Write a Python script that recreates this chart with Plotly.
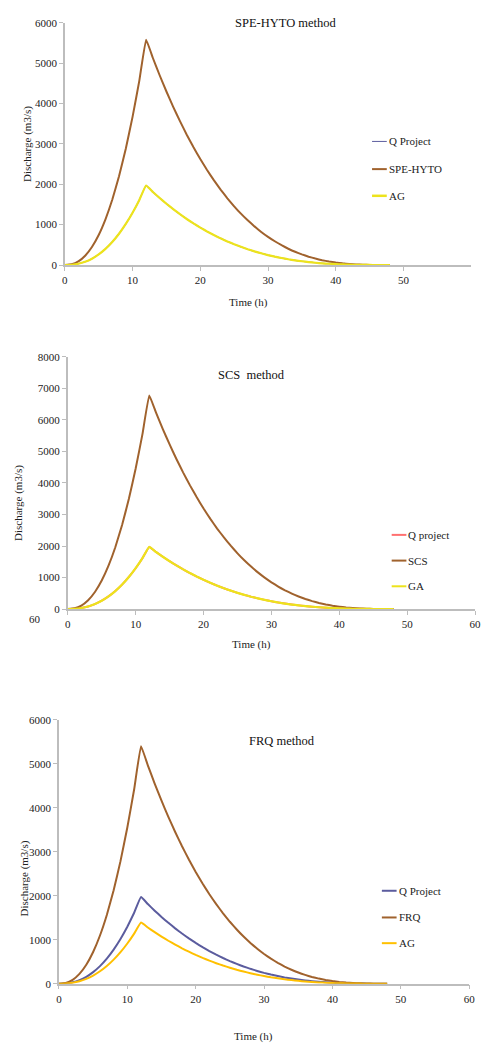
import plotly.graph_objects as go

W, H = 487, 1050

time_h = list(range(0, 49))

q_project = [0, 7, 32, 81, 157, 263, 400, 570, 775, 1017, 1295, 1613, 1970,
             1810, 1660, 1517, 1384, 1258, 1140, 1030, 927, 831, 742, 660, 584,
             514, 450, 391, 338, 290, 246, 207, 173, 142, 116, 93, 73, 56, 42,
             31, 22, 14, 9, 5, 3, 1, 0, 0, 0]

spe_hyto = [0, 18, 90, 230, 446, 745, 1133, 1615, 2196, 2879, 3669, 4568, 5580,
            5128, 4701, 4298, 3919, 3563, 3229, 2917, 2625, 2354, 2102, 1869, 1653,
            1455, 1273, 1108, 957, 820, 698, 588, 490, 403, 328, 263, 206, 159, 119,
            87, 61, 41, 26, 15, 8, 3, 1, 0, 0]

ag_spe = [0, 7, 32, 81, 157, 263, 400, 570, 775, 1017, 1295, 1613, 1970,
          1810, 1660, 1517, 1384, 1258, 1140, 1030, 927, 831, 742, 660, 584,
          514, 450, 391, 338, 290, 246, 207, 173, 142, 116, 93, 73, 56, 42,
          31, 22, 14, 9, 5, 3, 1, 0, 0, 0]

scs = [0, 22, 110, 280, 542, 905, 1376, 1962, 2668, 3498, 4458, 5550, 6780,
       6231, 5711, 5223, 4762, 4329, 3924, 3545, 3190, 2860, 2554, 2271, 2009,
       1768, 1547, 1346, 1163, 997, 848, 714, 595, 490, 399, 319, 251, 193, 145,
       106, 75, 49, 31, 18, 9, 4, 1, 0, 0]

ga_scs = [0, 7, 32, 81, 157, 263, 400, 570, 775, 1017, 1295, 1613, 1970,
          1810, 1660, 1517, 1384, 1258, 1140, 1030, 927, 831, 742, 660, 584,
          514, 450, 391, 338, 290, 246, 207, 173, 142, 116, 93, 73, 56, 42,
          31, 22, 14, 9, 5, 3, 1, 0, 0, 0]

frq = [0, 18, 87, 223, 431, 721, 1096, 1563, 2125, 2786, 3551, 4420, 5400,
       4963, 4549, 4160, 3792, 3448, 3125, 2823, 2541, 2278, 2034, 1808, 1600,
       1408, 1232, 1072, 926, 794, 675, 569, 474, 390, 318, 254, 200, 154, 116,
       84, 59, 39, 25, 15, 8, 3, 1, 0, 0]

ag_frq = [0, 5, 23, 57, 111, 186, 282, 402, 547, 717, 914, 1138, 1390,
          1277, 1171, 1071, 976, 888, 804, 727, 654, 586, 524, 466, 412,
          363, 317, 276, 238, 204, 174, 146, 122, 100, 82, 65, 51, 40, 30,
          22, 15, 10, 6, 4, 2, 1, 0, 0, 0]

BROWN = "#A0622D"
YELLOW = "#EDE31C"
ORANGE = "#FFC000"
BLUE = "#5B5C9E"
RED = "#FF7070"
AXIS = "#BDBDBD"
FONT = "Liberation Serif"
TXT = "#222222"


def px(x):
    return x / W


def py(y):
    return 1 - y / H


panels = [
    dict(title="SPE-HYTO method", tpos=(288, 17),
         xdom=(63, 477), ydom=(262, 17), ymax=6000, ydt=1000,
         xticks=[0, 10, 20, 30, 40, 50],
         series=[("Q Project", q_project, BLUE, 1.2, 1),
                 ("SPE-HYTO", spe_hyto, BROWN, 2, 2),
                 ("AG", ag_spe, YELLOW, 2.2, 2.5)],
         leg=(376, [137, 165, 192]),
         ytitle=(25, 140), xtitle=(250, 300)),
    dict(title="SCS  method", tpos=(253, 373),
         xdom=(66, 481), ydom=(610, 355), ymax=8000, ydt=1000,
         xticks=[0, 10, 20, 30, 40, 50, 60],
         series=[("Q project", q_project, RED, 2, 2),
                 ("SCS", scs, BROWN, 2, 2),
                 ("GA", ga_scs, YELLOW, 2.2, 2)],
         leg=(396, [535, 561, 587]),
         ytitle=(16, 503), xtitle=(253, 646)),
    dict(title="FRQ method", tpos=(284, 743),
         xdom=(57, 475), ydom=(989, 722), ymax=6000, ydt=1000,
         xticks=[0, 10, 20, 30, 40, 50, 60],
         series=[("Q Project", q_project, BLUE, 2, 2),
                 ("FRQ", frq, BROWN, 2, 2),
                 ("AG", ag_frq, ORANGE, 2, 2)],
         leg=(386, [895, 922, 948]),
         ytitle=(22, 883), xtitle=(255, 1042)),
]

fig = go.Figure()
layout = dict(width=W, height=H, margin=dict(l=0, r=0, t=0, b=0),
              paper_bgcolor="white", plot_bgcolor="white", showlegend=False,
              font=dict(family=FONT, color=TXT, size=10))
annotations = []
shapes = []

for i, p in enumerate(panels, start=1):
    xa = "x" if i == 1 else f"x{i}"
    ya = "y" if i == 1 else f"y{i}"
    for name, vals, col, lw, lgw in p["series"]:
        fig.add_trace(go.Scatter(x=time_h, y=vals, mode="lines", name=name,
                                 line=dict(color=col, width=lw, shape="spline",
                                           smoothing=0.3),
                                 xaxis=xa, yaxis=ya, hoverinfo="x+y+name"))
    xkey = "xaxis" if i == 1 else f"xaxis{i}"
    ykey = "yaxis" if i == 1 else f"yaxis{i}"
    layout[xkey] = dict(domain=[px(p["xdom"][0]), px(p["xdom"][1])],
                        range=[0, 60], tickvals=p["xticks"],
                        showgrid=False, zeroline=False, showline=True,
                        linecolor=AXIS, linewidth=1.5, ticks="outside",
                        ticklen=4, tickcolor=AXIS, anchor=ya,
                        tickfont=dict(family=FONT, size=11, color=TXT))
    layout[ykey] = dict(domain=[py(p["ydom"][0]), py(p["ydom"][1])],
                        range=[0, p["ymax"]], dtick=p["ydt"],
                        showgrid=False, zeroline=False, showline=True,
                        linecolor=AXIS, linewidth=1.5, ticks="outside",
                        ticklen=4, tickcolor=AXIS, anchor=xa,
                        tickfont=dict(family=FONT, size=11, color=TXT))
    annotations.append(dict(text=p["title"], x=px(p["tpos"][0]), y=py(p["tpos"][1]),
                            xref="paper", yref="paper", showarrow=False,
                            xanchor="center", yanchor="middle",
                            font=dict(family=FONT, size=12.5, color="#111111")))
    annotations.append(dict(text="Discharge (m3/s)", x=px(p["ytitle"][0]),
                            y=py(p["ytitle"][1]), xref="paper", yref="paper",
                            showarrow=False, textangle=-90, xanchor="center",
                            yanchor="middle",
                            font=dict(family=FONT, size=11, color=TXT)))
    annotations.append(dict(text="Time (h)", x=px(p["xtitle"][0]),
                            y=py(p["xtitle"][1]), xref="paper", yref="paper",
                            showarrow=False, xanchor="center", yanchor="middle",
                            font=dict(family=FONT, size=11, color=TXT)))
    lx, lys = p["leg"]
    for (name, vals, col, lw, lgw), ly in zip(p["series"], lys):
        shapes.append(dict(type="line", xref="paper", yref="paper",
                           x0=px(lx), x1=px(lx + 15), y0=py(ly), y1=py(ly),
                           line=dict(color=col, width=lgw)))
        annotations.append(dict(text=name, x=px(lx + 15), y=py(ly),
                                xref="paper", yref="paper", showarrow=False,
                                xanchor="left", yanchor="middle",
                                font=dict(family=FONT, size=11, color=TXT)))

annotations.append(dict(text="60", x=px(33), y=py(620), xref="paper", yref="paper",
                        showarrow=False, xanchor="center", yanchor="middle",
                        font=dict(family=FONT, size=11, color=TXT)))

layout["annotations"] = annotations
layout["shapes"] = shapes
fig.update_layout(**layout)
fig.write_html("out.html")
